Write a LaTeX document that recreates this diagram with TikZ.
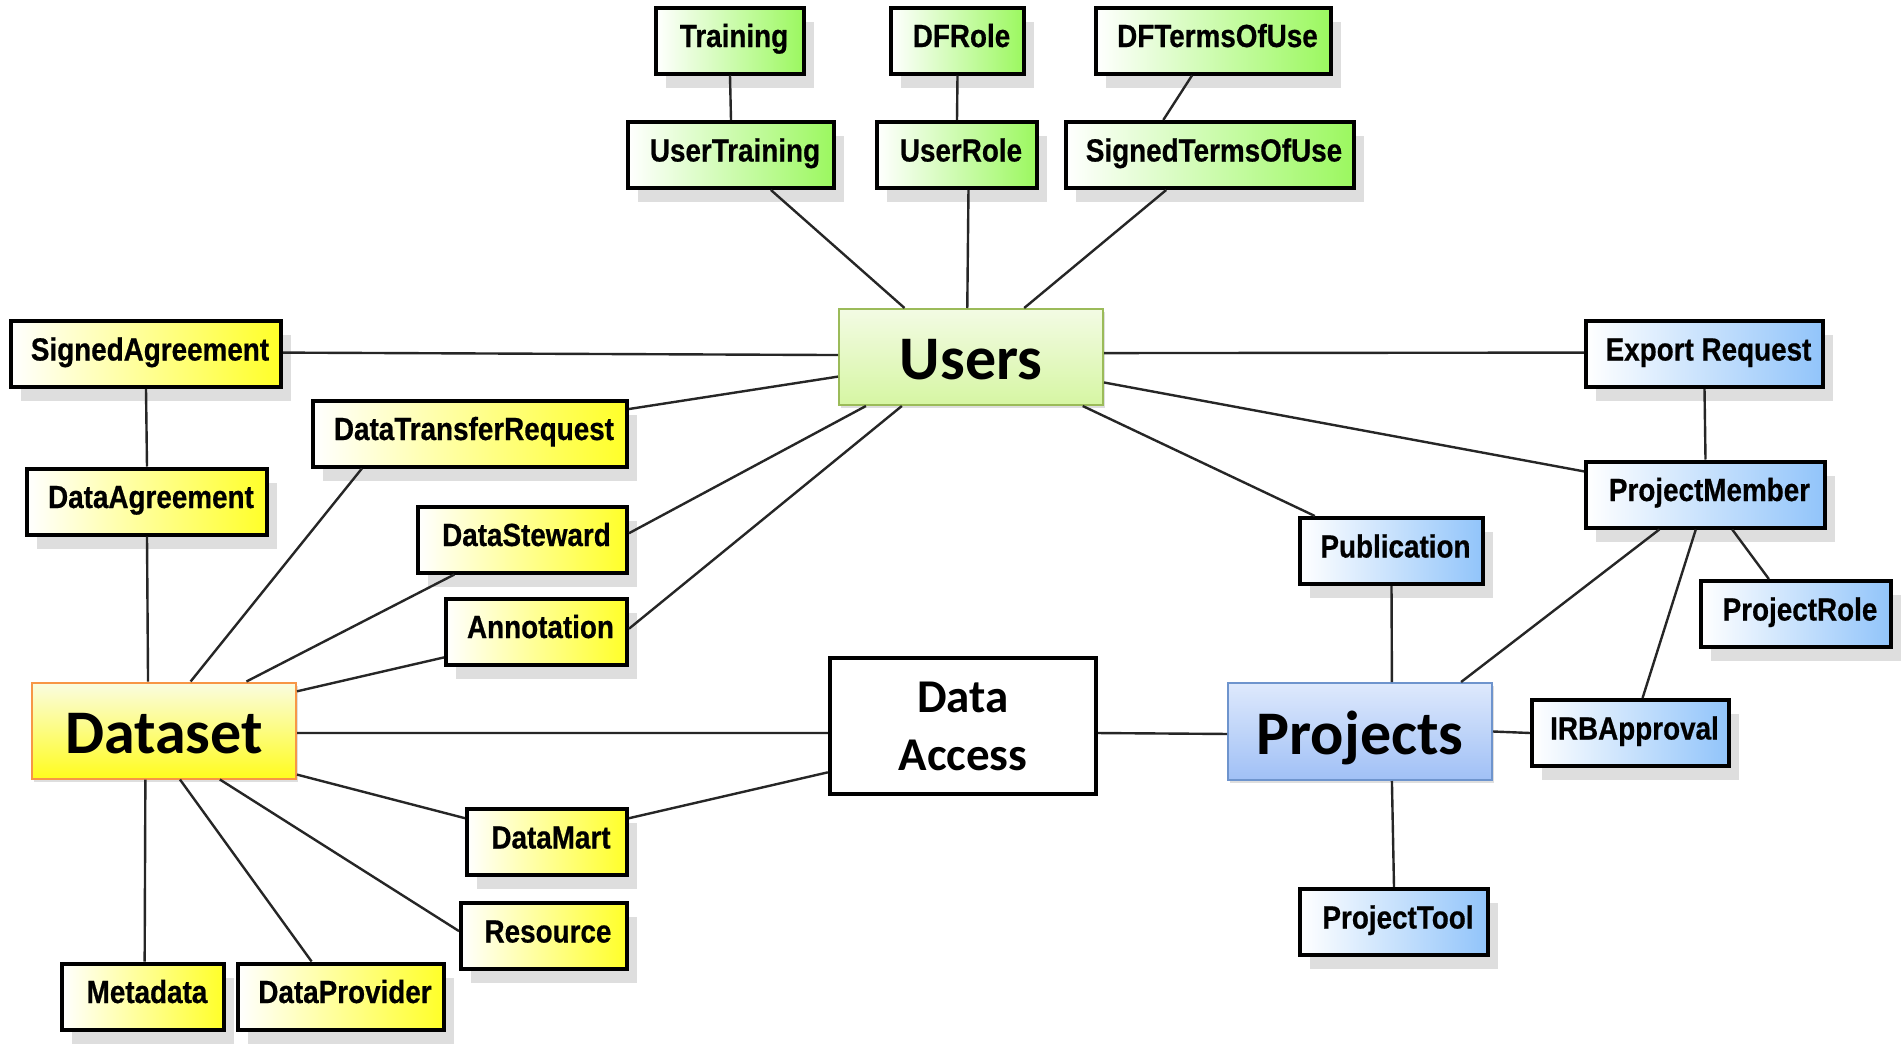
\documentclass[tikz,border=0pt]{standalone}
\usepackage{fontspec}
\setmainfont{Liberation Sans}
\newfontfamily\boxfont[FakeStretch=0.87,FakeBold=0.6]{Liberation Sans}
\newfontfamily\bigfont{Carlito}
\usetikzlibrary{calc,shadows}
\definecolor{gR}{RGB}{155,248,95}
\definecolor{yR}{RGB}{255,255,40}
\definecolor{bR}{RGB}{145,196,250}
\definecolor{usTop}{RGB}{243,251,228}
\definecolor{usBot}{RGB}{214,246,163}
\definecolor{usBd}{RGB}{155,187,89}
\definecolor{dsTop}{RGB}{250,252,225}
\definecolor{dsBot}{RGB}{255,252,30}
\definecolor{dsBd}{RGB}{247,150,70}
\definecolor{prTop}{RGB}{222,233,252}
\definecolor{prBot}{RGB}{160,192,246}
\definecolor{prBd}{RGB}{110,148,205}
\definecolor{shd}{RGB}{222,222,222}
\tikzset{
  ent/.style={draw=black, line width=2pt, inner sep=0pt, minimum height=33pt,
    text height=11.5pt, text depth=5pt,
    execute at begin node={\hspace*{4pt}},
    font=\boxfont\bfseries\fontsize{16}{18}\selectfont,
    drop shadow={shadow xshift=5.2pt, shadow yshift=-7pt, fill=shd, opacity=1}},
  gent/.style={ent, left color=white, right color=gR},
  yent/.style={ent, left color=white, right color=yR},
  bent/.style={ent, left color=white, right color=bR},
  hub/.style={line width=1pt, inner sep=0pt, minimum width=132pt, minimum height=48pt,
    text height=22.8pt, text depth=0pt,
    font=\bigfont\bfseries\fontsize{31}{31}\selectfont,
    drop shadow={shadow xshift=0.8pt, shadow yshift=-1.5pt, fill=black!25, opacity=.5}},
  conn/.style={draw=black!85, line width=1.2pt}
}
\begin{document}
\begin{tikzpicture}[x=0.5pt,y=-0.5pt]
\useasboundingbox[fill=white] (0,0) rectangle (1901,1049);
% green group
\node[gent, minimum width=74pt] (Training) at (730,40.5) {Training};
\node[gent, minimum width=66.5pt] (DFRole) at (957.5,40.5) {DFRole};
\node[gent, minimum width=117.5pt] (DFTermsOfUse) at (1213.5,40.5) {DFTermsOfUse};
\node[gent, minimum width=103pt] (UserTraining) at (731,155) {UserTraining};
\node[gent, minimum width=80pt] (UserRole) at (957,155) {UserRole};
\node[gent, minimum width=144pt] (SignedTermsOfUse) at (1210,155) {SignedTermsOfUse};
% yellow group
\node[yent, minimum width=135pt] (SignedAgreement) at (146,354) {SignedAgreement};
\node[yent, minimum width=157pt] (DataTransferRequest) at (470,433.5) {DataTransferRequest};
\node[yent, minimum width=120pt] (DataAgreement) at (147,501.5) {DataAgreement};
\node[yent, minimum width=104.5pt] (DataSteward) at (522.5,539.5) {DataSteward};
\node[yent, minimum width=90.5pt] (Annotation) at (536.5,631.5) {Annotation};
\node[yent, minimum width=80pt] (DataMart) at (547,842) {DataMart};
\node[yent, minimum width=83pt] (Resource) at (544,936) {Resource};
\node[yent, minimum width=81pt] (Metadata) at (143,996.5) {Metadata};
\node[yent, minimum width=103pt] (DataProvider) at (341,996.5) {DataProvider};
% blue group
\node[bent, minimum width=118.5pt] (ExportRequest) at (1704.5,354) {Export Request};
\node[bent, minimum width=119.5pt] (ProjectMember) at (1705.5,494.5) {ProjectMember};
\node[bent, minimum width=91.5pt] (Publication) at (1391.5,551) {Publication};
\node[bent, minimum width=95pt] (ProjectRole) at (1796,614) {ProjectRole};
\node[bent, minimum width=98.5pt] (IRBApproval) at (1630.5,733) {IRBApproval};
\node[bent, minimum width=94pt] (ProjectTool) at (1394,922) {ProjectTool};
% hubs
\node[hub, draw=usBd, top color=usTop, bottom color=usBot] (Users) at (971,357) {Users};
\node[hub, draw=dsBd, top color=dsTop, bottom color=dsBot] (Dataset) at (164,730.5) {Dataset};
\node[hub, draw=prBd, top color=prTop, bottom color=prBot, minimum height=48.5pt] (Projects) at (1360,731.5) {Projects};
\node[draw=black, line width=2.2pt, fill=white, inner sep=0pt, minimum width=133pt, minimum height=68pt,
  align=center, font=\bigfont\bfseries\fontsize{23.5}{29}\selectfont] (DataAccess) at (963,726) {Data\\Access};
% connectors
\draw[conn] (Training.south) -- (UserTraining.north);
\draw[conn] (DFRole.south) -- (UserRole.north);
\draw[conn] ($(DFTermsOfUse.south west)!.41!(DFTermsOfUse.south east)$) -- ($(SignedTermsOfUse.north west)!.34!(SignedTermsOfUse.north east)$);
\draw[conn] ($(UserTraining.south west)!.69!(UserTraining.south east)$) -- ($(Users.north west)!.25!(Users.north east)$);
\draw[conn] ($(UserRole.south west)!.57!(UserRole.south east)$) -- ($(Users.north west)!.486!(Users.north east)$);
\draw[conn] ($(SignedTermsOfUse.south west)!.35!(SignedTermsOfUse.south east)$) -- ($(Users.north west)!.70!(Users.north east)$);
\draw[conn] ($(SignedAgreement.north east)!.48!(SignedAgreement.south east)$) -- ($(Users.north west)!.48!(Users.south west)$);
\draw[conn] ($(DataTransferRequest.north east)!.15!(DataTransferRequest.south east)$) -- ($(Users.north west)!.70!(Users.south west)$);
\draw[conn] ($(DataSteward.north east)!.41!(DataSteward.south east)$) -- ($(Users.south west)!.105!(Users.south east)$);
\draw[conn] ($(Annotation.north east)!.46!(Annotation.south east)$) -- ($(Users.south west)!.24!(Users.south east)$);
\draw[conn] ($(Users.north east)!.46!(Users.south east)$) -- ($(ExportRequest.north west)!.48!(ExportRequest.south west)$);
\draw[conn] ($(Users.north east)!.76!(Users.south east)$) -- ($(ProjectMember.north west)!.17!(ProjectMember.south west)$);
\draw[conn] ($(Users.south west)!.92!(Users.south east)$) -- ($(Publication.north west)!.09!(Publication.north east)$);
\draw[conn] (ExportRequest.south) -- (ProjectMember.north);
\draw[conn] ($(ProjectMember.south west)!.61!(ProjectMember.south east)$) -- ($(ProjectRole.north west)!.36!(ProjectRole.north east)$);
\draw[conn] ($(ProjectMember.south west)!.46!(ProjectMember.south east)$) -- ($(IRBApproval.north west)!.56!(IRBApproval.north east)$);
\draw[conn] ($(ProjectMember.south west)!.31!(ProjectMember.south east)$) -- ($(Projects.north west)!.88!(Projects.north east)$);
\draw[conn] (Publication.south) -- ($(Projects.north west)!.62!(Projects.north east)$);
\draw[conn] (Projects.east) -- (IRBApproval.west);
\draw[conn] ($(Projects.south west)!.62!(Projects.south east)$) -- (ProjectTool.north);
\draw[conn] ($(DataAccess.north east)!.55!(DataAccess.south east)$) -- ($(Projects.north west)!.525!(Projects.south west)$);
\draw[conn] ($(Dataset.north east)!.525!(Dataset.south east)$) -- ($(DataAccess.north west)!.55!(DataAccess.south west)$);
\draw[conn] ($(DataMart.north east)!.16!(DataMart.south east)$) -- ($(DataAccess.north west)!.83!(DataAccess.south west)$);
\draw[conn] (SignedAgreement.south) -- (DataAgreement.north);
\draw[conn] (DataAgreement.south) -- ($(Dataset.north west)!.44!(Dataset.north east)$);
\draw[conn] ($(DataTransferRequest.south west)!.16!(DataTransferRequest.south east)$) -- ($(Dataset.north west)!.60!(Dataset.north east)$);
\draw[conn] ($(DataSteward.south west)!.18!(DataSteward.south east)$) -- ($(Dataset.north west)!.81!(Dataset.north east)$);
\draw[conn] ($(Annotation.north west)!.87!(Annotation.south west)$) -- ($(Dataset.north east)!.1!(Dataset.south east)$);
\draw[conn] ($(Dataset.north east)!.95!(Dataset.south east)$) -- ($(DataMart.north west)!.16!(DataMart.south west)$);
\draw[conn] ($(Dataset.south west)!.71!(Dataset.south east)$) -- ($(Resource.north west)!.43!(Resource.south west)$);
\draw[conn] ($(Dataset.south west)!.56!(Dataset.south east)$) -- ($(DataProvider.north west)!.36!(DataProvider.north east)$);
\draw[conn] ($(Dataset.south west)!.43!(Dataset.south east)$) -- ($(Metadata.north west)!.51!(Metadata.north east)$);
\end{tikzpicture}
\end{document}
